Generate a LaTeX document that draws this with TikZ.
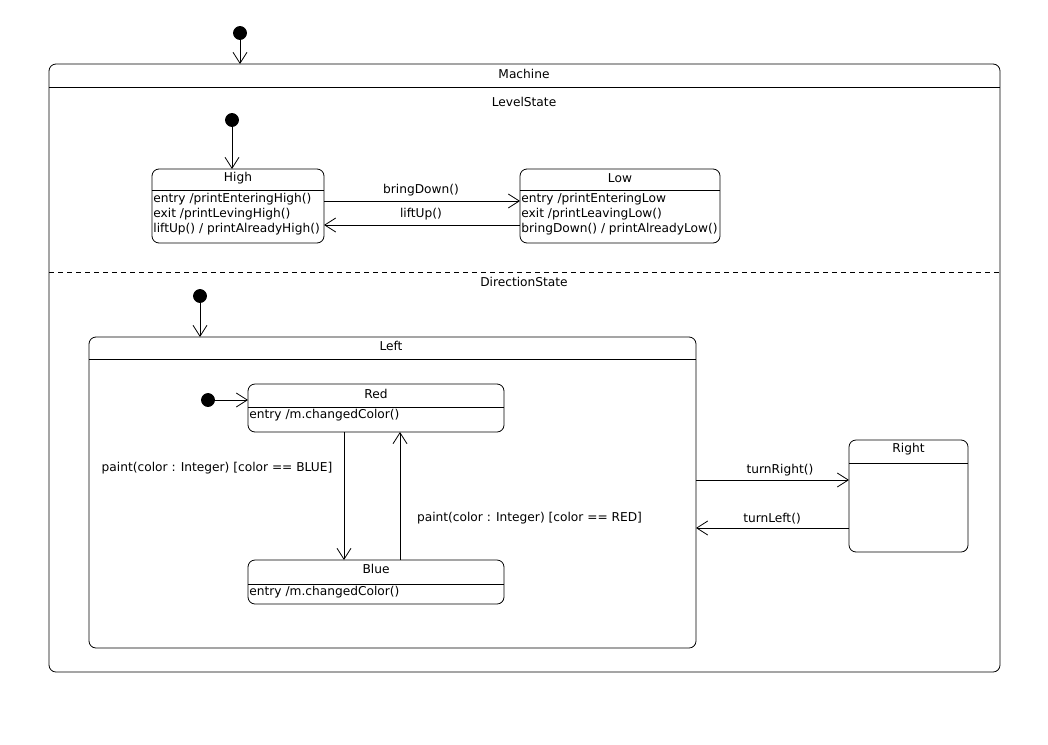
\documentclass[tikz,border=0pt]{standalone}
\usepackage{fontspec}
\setmainfont{DejaVu Sans}
\usetikzlibrary{arrows.meta}
\begin{document}
\begin{tikzpicture}[x=1pt,y=-1pt,
  line width=0.8pt,
  state/.style={draw, rounded corners=7pt, anchor=north west, inner sep=0pt, outer sep=0pt},
  init/.style={circle, fill=black, draw=black, minimum size=13pt, inner sep=0pt},
  tr/.style={-{Straight Barb[length=11pt,width=14pt]}},
  lbl/.style={font=\fontsize{12.2}{14}\selectfont, inner sep=0pt},
  act/.style={lbl, anchor=west, align=left}
]
\useasboundingbox (0,0) rectangle (1048,744);
\fill[white] (0,0) rectangle (1048,744);

% y reference coordinates
\coordinate (yM) at (0,87);
\coordinate (yHL) at (0,190);
\coordinate (yBD) at (0,201);
\coordinate (yLU) at (0,225);
\coordinate (yDS) at (0,272);
\coordinate (yLeft) at (0,359);
\coordinate (yRedH) at (0,407);
\coordinate (yRedI) at (0,400);
\coordinate (yBlueH) at (0,584);
\coordinate (yRightH) at (0,463);
\coordinate (yTR) at (0,480);
\coordinate (yTL) at (0,528);
\coordinate (xRB) at (344,0);
\coordinate (xBR) at (400,0);

% Machine
\node[state, minimum width=951pt, minimum height=608pt] (machine) at (49,64) {};
\draw (machine.west |- yM) -- (machine.east |- yM);
\node[lbl] (machineT) at (524,74) {Machine};
\node[init] (i0) at (240,33) {};
\draw[tr] (i0) -- (machine.north -| i0);

% LevelState
\node[lbl] (levelT) at (524,102) {LevelState};
\node[init] (i1) at (232,120) {};

\node[state, minimum width=172pt, minimum height=74pt] (high) at (152,169) {};
\draw (high.west |- yHL) -- (high.east |- yHL);
\node[lbl] (highT) at (238,178) {High};
\node[act] (high1) at (153,199) {entry /printEnteringHigh()};
\node[act] (high2) at (153,214) {exit /printLevingHigh()};
\node[act] (high3) at (153,229) {liftUp() / printAlreadyHigh()};
\draw[tr] (i1) -- (high.north -| i1);

\node[state, minimum width=200pt, minimum height=74pt] (low) at (520,169) {};
\draw (low.west |- yHL) -- (low.east |- yHL);
\node[lbl] (lowT) at (620,178) {Low};
\node[act] (low1) at (521,199) {entry /printEnteringLow};
\node[act] (low2) at (521,214) {exit /printLeavingLow()};
\node[act] (low3) at (521,229) {bringDown() / printAlreadyLow()};

\draw[tr] (high.east |- yBD) -- (low.west |- yBD);
\node[lbl] (bdL) at (421,190) {bringDown()};
\draw[tr] (low.west |- yLU) -- (high.east |- yLU);
\node[lbl] (luL) at (421,214) {liftUp()};

% region separator
\draw[dash pattern=on 5pt off 4pt] (machine.west |- yDS) -- (machine.east |- yDS);

% DirectionState
\node[lbl] (dirT) at (524,282) {DirectionState};
\node[init] (i2) at (200,296) {};

\node[state, minimum width=607pt, minimum height=311pt] (left) at (89,337) {};
\draw (left.west |- yLeft) -- (left.east |- yLeft);
\node[lbl] (leftT) at (391,346) {Left};
\draw[tr] (i2) -- (left.north -| i2);

\node[init] (i3) at (208,400) {};
\node[state, minimum width=256pt, minimum height=48pt] (red) at (248,384) {};
\draw (red.west |- yRedH) -- (red.east |- yRedH);
\node[lbl] (redT) at (376,394) {Red};
\node[act] (red1) at (249,415) {entry /m.changedColor()};
\draw[tr] (i3) -- (red.west |- yRedI);

\node[state, minimum width=256pt, minimum height=44pt] (blue) at (248,560) {};
\draw (blue.west |- yBlueH) -- (blue.east |- yBlueH);
\node[lbl] (blueT) at (376,569) {Blue};
\node[act] (blue1) at (249,592) {entry /m.changedColor()};

\draw[tr] (red.south -| xRB) -- (blue.north -| xRB);
\node[lbl] (rbL) at (217,468) {paint(color : Integer) [color == BLUE]};
\draw[tr] (blue.north -| xBR) -- (red.south -| xBR);
\node[lbl] (brL) at (529.5,518) {paint(color : Integer) [color == RED]};

\node[state, minimum width=119pt, minimum height=112pt] (right) at (849,440) {};
\draw (right.west |- yRightH) -- (right.east |- yRightH);
\node[lbl] (rightT) at (908.5,449) {Right};

\draw[tr] (left.east |- yTR) -- (right.west |- yTR);
\node[lbl] (trL) at (780,470) {turnRight()};
\draw[tr] (right.west |- yTL) -- (left.east |- yTL);
\node[lbl] (tlL) at (772,519) {turnLeft()};
\end{tikzpicture}
\end{document}
